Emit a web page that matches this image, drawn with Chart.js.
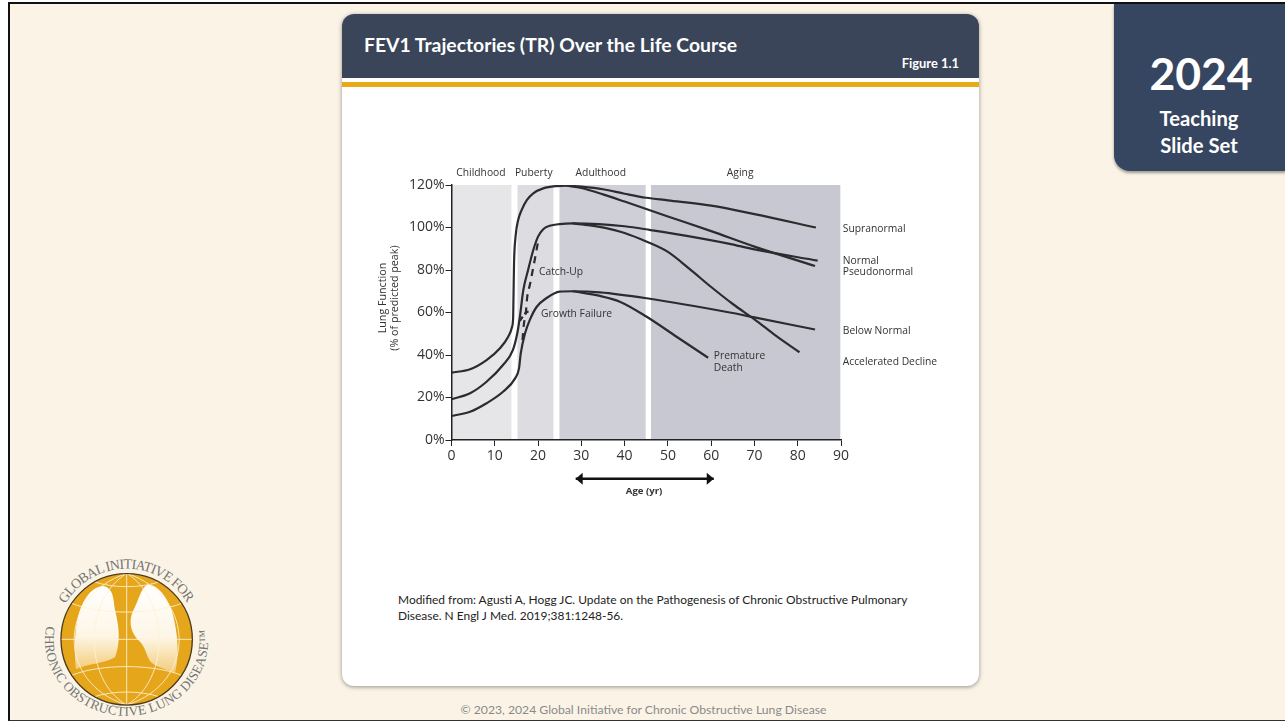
<!DOCTYPE html>
<html>
<head>
<meta charset="utf-8">
<title>FEV1 Trajectories (TR) Over the Life Course</title>
<script src="https://cdn.jsdelivr.net/npm/chart.js@4"></script>
<style>
  html, body { margin: 0; padding: 0; background: #fff; }
  body { width: 1285px; height: 721px; position: relative; overflow: hidden; font-family: Lato, sans-serif; }
  #slide { position: absolute; left: 8px; top: 2px; right: 0; bottom: 0; background: #fbf4e6;
           border-left: 2.5px solid #111; border-top: 2px solid #111; border-bottom: 1.5px solid #333; }
  #card { position: absolute; left: 342px; top: 14px; width: 637px; height: 672px; background: #fff;
          border-radius: 12px; box-shadow: 0 1px 4px rgba(60,60,60,.55); overflow: hidden; }
  #head { position: absolute; left: 0; top: 0; width: 100%; height: 63.5px; background: #3a4559; }
  #gold { position: absolute; left: 0; top: 68px; width: 100%; height: 4.5px; background: #e9ab15; }
  #title { position: absolute; left: 22px; top: 19px; color: #fff; font-weight: 700; font-size: 19.35px; white-space: nowrap; }
  #fig { position: absolute; right: 20px; top: 41px; color: #fff; font-weight: 700; font-size: 12.9px; }
  #cite { position: absolute; left: 56px; top: 578px; width: 560px; color: #222; font-size: 11.95px; line-height: 16px; }
  #tab { position: absolute; left: 1113.5px; top: 4px; width: 172px; height: 167px; background: #374660;
         border-bottom-left-radius: 16px; box-shadow: 0 2px 3px rgba(60,60,60,.5); color: #fff; text-align: center; font-weight: 700; }
  #tab .yr { position: absolute; left: 0; width: 175px; top: 42px; font-size: 44.5px; line-height: 54px; }
  #tab .sub { position: absolute; left: 0; width: 171px; top: 101px; font-size: 20.2px; line-height: 26.5px; }
  #copy { position: absolute; left: 0; width: 1287px; top: 702px; text-align: center; color: #8a8a8a; font-size: 12.2px; }
  #logo { position: absolute; left: 0; top: 540px; width: 240px; height: 181px; }
  #chart { position: absolute; left: 0; top: 0; }
</style>
</head>
<body>
<div id="slide"></div>
<div id="card">
  <div id="head"></div><div id="gold"></div>
  <div id="title">FEV1 Trajectories (TR) Over the Life Course</div>
  <div id="fig">Figure 1.1</div>
  <div id="cite">Modified from: Agusti A, Hogg JC. Update on the Pathogenesis of Chronic Obstructive Pulmonary<br>Disease. N Engl J Med. 2019;381:1248-56.</div>
</div>
<div id="tab"><div class="yr">2024</div><div class="sub">Teaching<br>Slide Set</div></div>
<div id="copy">© 2023, 2024 Global Initiative for Chronic Obstructive Lung Disease</div>

<svg id="logo" viewBox="0 0 720 543">
  <defs>
    <linearGradient id="lung" x1="0" y1="0" x2="0" y2="1">
      <stop offset="0" stop-color="#fff"/><stop offset=".6" stop-color="#fdf6e6"/><stop offset="1" stop-color="#f3cd7c"/>
    </linearGradient>
    <clipPath id="ball"><circle cx="380" cy="298" r="195"/></clipPath>
    <path id="arcTop" d="M 196.4 192 A 212 212 0 0 1 563.6 192"/>
    <path id="arcBot" d="M 139 258 A 245 228 0 1 0 621 258"/>
  </defs>
  <circle cx="380" cy="298" r="197" fill="#e5a61c" stroke="#4a3a1c" stroke-width="4"/>
  <path fill="url(#lung)" d="M310 138 C270 140 240 190 230 250 C222 300 224 350 228 388 C260 372 310 372 345 352 C362 310 358 260 345 210 C340 180 342 145 310 138 Z"/>
  <path fill="url(#lung)" d="M440 135 C420 150 415 185 398 215 C385 245 392 280 420 305 C440 325 440 360 460 372 C480 385 510 392 525 398 C538 350 535 280 515 210 C500 170 470 130 440 135 Z"/>
  <g clip-path="url(#ball)" fill="none" stroke="#fff3d6" stroke-width="3" opacity=".85">
    <line x1="183" y1="298" x2="577" y2="298"/>
    <line x1="380" y1="100" x2="380" y2="495"/>
    <path d="M380 100 C250 180 250 420 380 495"/>
    <path d="M380 100 C510 180 510 420 380 495"/>
    <path d="M380 100 C170 170 170 430 380 495"/>
    <path d="M380 100 C590 170 590 430 380 495"/>
    <path d="M215 190 C300 225 460 225 545 190"/>
    <path d="M215 406 C300 371 460 371 545 406"/>
    <path d="M280 125 C340 145 420 145 480 125"/>
    <path d="M280 471 C340 451 420 451 480 471"/>
  </g>
  <g fill="#747474" font-family="'Liberation Serif', serif">
    <text font-size="42"><textPath href="#arcTop" textLength="440" lengthAdjust="spacing">GLOBAL INITIATIVE FOR</textPath></text>
    <text font-size="40"><textPath href="#arcBot" textLength="815" lengthAdjust="spacing">CHRONIC OBSTRUCTIVE LUNG DISEASE™</textPath></text>
  </g>
</svg>

<canvas id="chart" width="1285" height="721"></canvas>

<script>
// Life stages behind the curves
const stageNames = ['Childhood', 'Puberty', 'Adulthood', 'Aging'];
const stageStart = [0.1, 15.2, 24.9, 46.1];
const stageEnd = [13.9, 23.6, 44.9, 89.9];
const stageColors = ['#e6e6e8', '#dcdce1', '#cfcfd8', '#c8c8d2'];

const xTicks = [0, 10, 20, 30, 40, 50, 60, 70, 80, 90];
const yTicks = [0, 20, 40, 60, 80, 100, 120];

// Curves: age (yr) and % of predicted peak
const supraAge = [0, 4.3, 8.1, 11.2, 13.1, 14, 14.25, 14.3, 14.35, 14.45, 14.8, 15.4, 16.2, 17.4, 18.9, 21.2, 24.3, 26.6, 30, 35, 40, 45, 50, 60, 70, 84.2];
const supraPct = [31.7, 33.3, 37.6, 43.2, 48.6, 53.3, 58, 64.3, 70.6, 83.2, 95.7, 103.5, 108.2, 112.9, 116.1, 118.4, 119.5, 119.7, 119.2, 118, 115.9, 114, 112.8, 110.3, 106.3, 100];
const pseudoAge = [26.6, 30, 35, 40, 45, 50, 60, 70, 84];
const pseudoPct = [119.7, 118.6, 115.6, 112.2, 108.7, 105.2, 98.3, 91, 81.9];
const normalAge = [0, 4.3, 8.1, 11.9, 14.2, 15.2, 15.8, 16.6, 17.7, 18.9, 20, 21.2, 22.7, 25, 28, 34, 40, 46, 54, 64, 70, 84.6];
const normalPct = [19.2, 22, 27.4, 35.3, 42.4, 50.2, 58, 70.6, 80, 89.4, 95.7, 99.2, 100.8, 101.6, 101.9, 101.6, 100.6, 98.8, 96.2, 92.4, 89.7, 84.4];
const accelAge = [28, 32, 36, 40, 45, 50, 55, 60, 65, 70, 75, 80.4];
const accelPct = [101.9, 101, 99.6, 97.4, 93.4, 88.5, 80.5, 72, 64, 56.8, 49, 41.3];
const belowAge = [0, 4.3, 8.1, 11.9, 14.7, 15.6, 16, 17, 18.1, 19.7, 21.9, 25, 28, 34.3, 45.1, 64.3, 70, 84];
const belowPct = [11.3, 13.3, 17.3, 22.7, 29, 33.7, 40.8, 50.2, 56.5, 62.7, 66.7, 69.8, 70, 69.5, 66.7, 60, 57.7, 52];
const prematureAge = [28, 34.3, 38.9, 45.1, 52, 59.3];
const prematurePct = [70, 67.8, 65.1, 58, 48.6, 38.7];
const catchUpAge = [16.4, 16.7, 17.2, 17.5, 18.1, 18.7, 19.3, 20];
const catchUpPct = [47, 54.1, 60.4, 67.4, 72.9, 79.2, 85.5, 93.3];
const failureAge = [15.8, 17.2, 18.5];
const failurePct = [56.1, 59.9, 60.8];

const ageArrowX = [28.7, 60.6];
const ageArrowY = [-18.2, -18.2];

// Text inside and around the plot, placed in axis units
const stageLabelAge = [6.8, 19, 34.5, 66.7];
const noteTexts = ['Supranormal', 'Normal', 'Pseudonormal', 'Below Normal', 'Accelerated Decline', 'Premature', 'Death', 'Catch-Up', 'Growth Failure'];
const noteAge = [90.4, 90.4, 90.4, 90.4, 90.4, 60.6, 60.6, 20.2, 20.7];
const notePct = [99.4, 84.3, 79.1, 51.4, 36.8, 39.6, 34, 79.1, 59.4];
const yTitleLines = ['Lung Function', '(% of predicted peak)'];

const zip = (xs, ys) => xs.map((x, i) => ({ x, y: ys[i] }));
const ink = '#2b2b30';

const curve = (xs, ys, dash) => ({
  type: 'line',
  data: zip(xs, ys),
  borderColor: ink,
  borderWidth: 2.2,
  borderDash: dash || [],
  cubicInterpolationMode: 'monotone',
  pointRadius: 0,
  fill: false,
  order: 1
});

const bands = stageNames.map((name, i) => ({
  type: 'line',
  label: name,
  data: [{ x: stageStart[i], y: 120 }, { x: stageEnd[i], y: 120 }],
  borderWidth: 0,
  pointRadius: 0,
  backgroundColor: stageColors[i],
  fill: 'origin',
  order: 5
}));

const ageArrow = {
  type: 'line',
  data: zip(ageArrowX, ageArrowY),
  borderColor: '#111',
  borderWidth: 2.5,
  clip: false,
  pointRadius: 0,
  order: 1
};

// Writes the stage headings, curve names and the age caption, and the arrow heads
const figureText = {
  id: 'figureText',
  afterDraw(chart) {
    const { ctx, scales: { x, y } } = chart;
    ctx.save();
    ctx.fillStyle = '#333';
    ctx.textBaseline = 'middle';
    ctx.font = "10.3px 'Open Sans'";
    ctx.textAlign = 'center';
    stageNames.forEach((name, i) => ctx.fillText(name, x.getPixelForValue(stageLabelAge[i]), y.getPixelForValue(125.6)));
    ctx.textAlign = 'left';
    noteTexts.forEach((t, i) => ctx.fillText(t, x.getPixelForValue(noteAge[i]), y.getPixelForValue(notePct[i])));

    ctx.save();
    ctx.translate(x.getPixelForValue(-15.8), y.getPixelForValue(66.8));
    ctx.rotate(-Math.PI / 2);
    ctx.textAlign = 'center';
    ctx.font = "10.7px 'Open Sans'";
    yTitleLines.forEach((t, i) => ctx.fillText(t, 0, i * 12));
    ctx.restore();

    ctx.textAlign = 'center';
    ctx.font = "bold 9.6px 'Open Sans'";
    ctx.fillText('Age (yr)', x.getPixelForValue(44.5), y.getPixelForValue(-24));

    ctx.fillStyle = '#111';
    ageArrowX.forEach((age, i) => {
      const tip = x.getPixelForValue(age);
      const mid = y.getPixelForValue(ageArrowY[i]);
      const back = tip + (i === 0 ? 7 : -7);
      ctx.beginPath();
      ctx.moveTo(tip, mid);
      ctx.lineTo(back, mid - 6);
      ctx.lineTo(back, mid + 6);
      ctx.closePath();
      ctx.fill();
    });
    ctx.restore();
  }
};

new Chart(document.getElementById('chart').getContext('2d'), {
  data: { datasets: [curve(supraAge, supraPct), curve(pseudoAge, pseudoPct), curve(normalAge, normalPct),
    curve(accelAge, accelPct), curve(belowAge, belowPct), curve(prematureAge, prematurePct),
    curve(catchUpAge, catchUpPct, [7, 6]), curve(failureAge, failurePct, [5, 3]), ageArrow, ...bands] },
  plugins: [figureText],
  options: {
    responsive: false,
    animation: false,
    layout: { padding: { left: 378.5, right: 444, top: 185, bottom: 246 } },
    plugins: { legend: { display: false }, tooltip: { enabled: false } },
    scales: {
      x: {
        type: 'linear',
        min: 0,
        max: 90,
        afterBuildTicks: s => { s.ticks = xTicks.map(value => ({ value })); },
        afterFit: s => { s.height = 35; },
        grid: { drawOnChartArea: false, color: '#222', tickLength: 6, z: 1 },
        border: { color: '#222', width: 1.5, z: 1 },
        ticks: { color: '#333', font: { family: 'Open Sans', size: 14 }, padding: 2, maxRotation: 0 }
      },
      y: {
        type: 'linear',
        min: 0,
        max: 120,
        afterBuildTicks: s => { s.ticks = yTicks.map(value => ({ value })); },
        afterFit: s => { s.width = 73; },
        grid: { drawOnChartArea: false, color: '#222', tickLength: 6, z: 1 },
        border: { color: '#222', width: 1.5, z: 1 },
        ticks: { color: '#333', font: { family: 'Open Sans', size: 14 }, padding: 1, callback: v => v + '%' }
      }
    }
  }
});
</script>
</body>
</html>
